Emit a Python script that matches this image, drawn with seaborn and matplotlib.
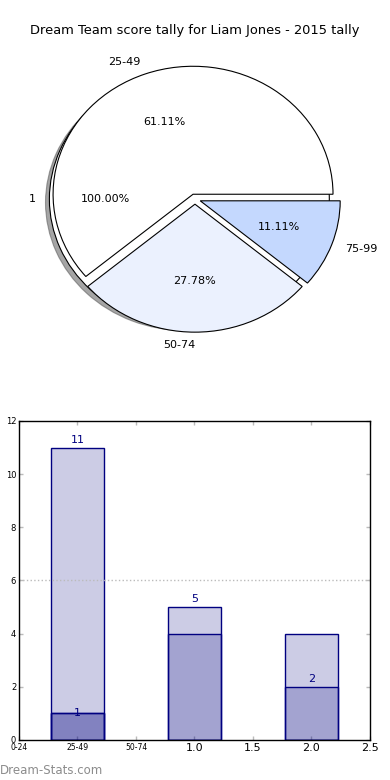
import matplotlib
matplotlib.use('Agg')
import matplotlib.pyplot as plt
import seaborn as sns
import pandas as pd

sns.set_style('white')
plt.rcParams['font.family'] = ['DejaVu Sans']
plt.rcParams['text.color'] = 'black'
plt.rcParams['xtick.labelcolor'] = 'black'
plt.rcParams['ytick.labelcolor'] = 'black'

# dane do wykresu kolowego
pie_labels = ['25-49', '50-74', '75-99']
pie_values = [11, 5, 2]
pie_colors = ['#FFFFFF', '#EBF1FE', '#C4D8FE']
single_label = ['1']
single_value = [1]

# dane do wykresu slupkowego
bar_pos = ['a', 'b', 'c']
bar_total = [11, 5, 4]
bar_mid = [1, 4, 2]
bar_low = [1, 0, 0]
bar_text = ['11', '5', '2']
x_ticks = [-0.5, 0, 0.5, 1.0, 1.5, 2.0, 2.5]
x_ticklabels = ['0-24', '25-49', '50-74', '1.0', '1.5', '2.0', '2.5']

fig = plt.figure(figsize=(3.9, 7.8), dpi=100)
fig.text(0.5, 0.9615, 'Dream Team score tally for Liam Jones - 2015 tally',
         ha='center', va='center', fontsize=9.4, color='black')

# --- wykres kolowy ---
ax1 = fig.add_axes([0.0154, 0.5233, 0.969, 0.443])
wp = dict(edgecolor='black', linewidth=0.8)
ax1.pie(single_value, labels=single_label, colors=['white'], explode=[0.04],
        autopct='%.2f%%', shadow=True, wedgeprops=wp,
        textprops=dict(fontsize=8, color='black'))
w, labs, pcts = ax1.pie(pie_values, labels=pie_labels, colors=pie_colors,
                        explode=[0.04] * len(pie_values), autopct='%.2f%%',
                        wedgeprops=wp, textprops=dict(fontsize=8, color='black'))
# stary matplotlib wyrownywal etykiete na dole do prawej
labs[1].set_ha('right')
ax1.set_aspect('auto')
ax1.set_xlim(-1.35, 1.35)
ax1.set_ylim(-1.35, 1.35)
ax1.axis('off')

# --- wykres slupkowy ---
ax2 = fig.add_axes([0.0487, 0.0513, 0.9, 0.409])
fc = (0, 0, 0.5, 0.2)
for h in [bar_total, bar_mid, bar_low]:
    df = pd.DataFrame({'x': bar_pos, 'y': h})
    sns.barplot(data=df, x='x', y='y', ax=ax2, width=0.45, color='navy',
                facecolor=fc, edgecolor='navy', linewidth=1.0, saturation=1)

for i, t in enumerate(bar_text):
    ax2.text(i, pie_values[i] + 0.1, t, ha='center', va='bottom',
             color='navy', fontsize=8)
ax2.text(0, single_value[0], single_label[0], ha='center', va='center',
         color='navy', fontsize=8)

ax2.axhline(6, color='#BBBBBB', linestyle=':', linewidth=1.0)
ax2.set_xlim(-0.5, 2.5)
ax2.set_ylim(0, 12)
ax2.set_xticks(x_ticks)
ax2.set_xticklabels(x_ticklabels)
for lab in ax2.get_xticklabels()[:3]:
    lab.set_fontsize(5.5)
for lab in ax2.get_xticklabels()[3:]:
    lab.set_fontsize(8)
ax2.set_yticks(range(0, 13, 2))
ax2.tick_params(axis='y', labelsize=6)
ax2.tick_params(direction='in', length=3, width=1, color='#BBBBBB',
                top=True, right=True, bottom=True, left=True, pad=2)
ax2.set_xlabel('')
ax2.set_ylabel('')
for s in ax2.spines.values():
    s.set_visible(True)
    s.set_color('black')
    s.set_linewidth(1.0)

fig.text(0.0, 0.012, 'Dream-Stats.com', ha='left', va='center',
         fontsize=8.5, color='#8C8C8C')

fig.savefig('out.png', dpi=100)
